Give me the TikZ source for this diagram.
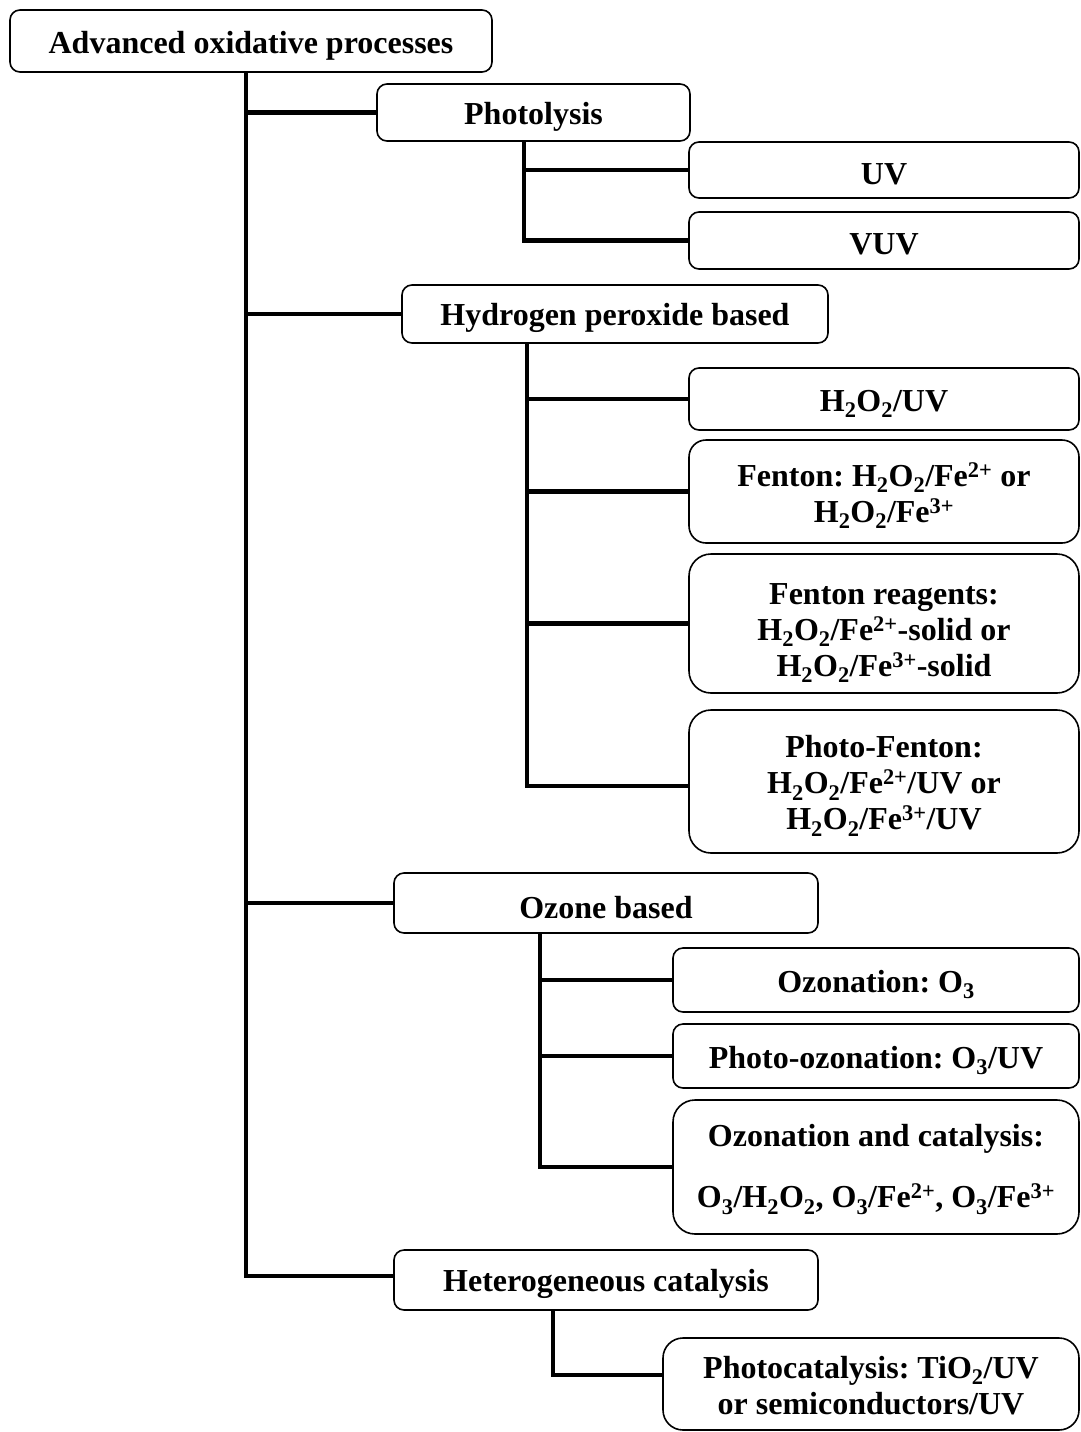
\documentclass[tikz,border=0pt]{standalone}
\usepackage{fontspec}
\setmainfont{Liberation Serif}
\newcommand\sbs[1]{\textsubscript{#1}}
\newcommand\sps[1]{\textsuperscript{#1}}
\tikzset{
  box/.style={draw, line width=1.6pt, rounded corners=#1, inner sep=0pt, align=center,
    font=\bfseries\fontsize{32}{36}\selectfont\frenchspacing},
  conn/.style={line width=4.2pt},
}
% name, x1, y1, x2, y2, radius, text, strut height (moves the text down)
\newcommand\mkbox[8]{\node[box=#6, minimum width={#4-#2}, minimum height={#5-#3}] (#1) at ({(#2+#4)/2},{(#3+#5)/2}) {\rule{0pt}{#8}#7};}
\begin{document}
\begin{tikzpicture}[x=1pt,y=-1pt]
\useasboundingbox (0,0) rectangle (1080,1432);
\mkbox{root}{10}{10}{492}{72}{10pt}{Advanced oxidative processes}{31pt}
\mkbox{photo}{377}{84}{690}{141}{10pt}{Photolysis}{31pt}
\mkbox{uv}{689}{142}{1079}{198}{10pt}{UV}{29pt}
\mkbox{vuv}{689}{212}{1079}{269}{10pt}{VUV}{29pt}
\mkbox{hp}{402}{285}{828}{343}{10pt}{Hydrogen peroxide based}{31pt}
\mkbox{huv}{689}{368}{1079}{430}{10pt}{H\sbs{2}O\sbs{2}/UV}{31pt}
\mkbox{fen}{689}{440}{1079}{543}{17pt}{Fenton: H\sbs{2}O\sbs{2}/Fe\sps{2+} or\\H\sbs{2}O\sbs{2}/Fe\sps{3+}}{32pt}
\mkbox{fenr}{689}{554}{1079}{693}{22pt}{Fenton reagents:\\H\sbs{2}O\sbs{2}/Fe\sps{2+}-solid or\\H\sbs{2}O\sbs{2}/Fe\sps{3+}-solid}{40pt}
\mkbox{pf}{689}{710}{1079}{853}{22pt}{Photo-Fenton:\\H\sbs{2}O\sbs{2}/Fe\sps{2+}/UV or\\H\sbs{2}O\sbs{2}/Fe\sps{3+}/UV}{31pt}
\mkbox{oz}{394}{873}{818}{933}{10pt}{Ozone based}{31pt}
\mkbox{othree}{673}{948}{1079}{1012}{10pt}{Ozonation: O\sbs{3}}{31pt}
\mkbox{ouv}{673}{1024}{1079}{1088}{10pt}{Photo-ozonation: O\sbs{3}/UV}{31pt}
\mkbox{ocat}{673}{1100}{1079}{1234}{22pt}{Ozonation and catalysis:\\[25pt]O\sbs{3}/H\sbs{2}O\sbs{2}, O\sbs{3}/Fe\sps{2+}, O\sbs{3}/Fe\sps{3+}}{27pt}
\mkbox{het}{394}{1250}{818}{1310}{10pt}{Heterogeneous catalysis}{31pt}
\mkbox{pc}{663}{1338}{1079}{1430}{20pt}{Photocatalysis: TiO\sbs{2}/UV\\or semiconductors/UV}{25pt}
% trunk x positions
\coordinate (tx) at (246,0);
\coordinate (px) at (524,0);
\coordinate (hx) at (527,0);
\coordinate (ox) at (540,0);
\coordinate (gx) at (553,0);
\coordinate (pfb) at (689,786);
\coordinate (hetb) at (394,1276);
\coordinate (pcb) at (663,1375);
% main trunk
\draw[conn] (root.south -| tx) -- (hetb -| tx) -- (hetb);
\draw[conn] (photo.west -| tx) -- (photo.west);
\draw[conn] (hp.west -| tx) -- (hp.west);
\draw[conn] (oz.west -| tx) -- (oz.west);
% photolysis
\draw[conn] (photo.south -| px) |- (vuv.west);
\draw[conn] (uv.west -| px) -- (uv.west);
% hydrogen peroxide
\draw[conn] (hp.south -| hx) |- (pfb);
\draw[conn] (huv.west -| hx) -- (huv.west);
\draw[conn] (fen.west -| hx) -- (fen.west);
\draw[conn] (fenr.west -| hx) -- (fenr.west);
% ozone
\draw[conn] (oz.south -| ox) |- (ocat.west);
\draw[conn] (othree.west -| ox) -- (othree.west);
\draw[conn] (ouv.west -| ox) -- (ouv.west);
% heterogeneous
\draw[conn] (het.south -| gx) |- (pcb);
\end{tikzpicture}
\end{document}
